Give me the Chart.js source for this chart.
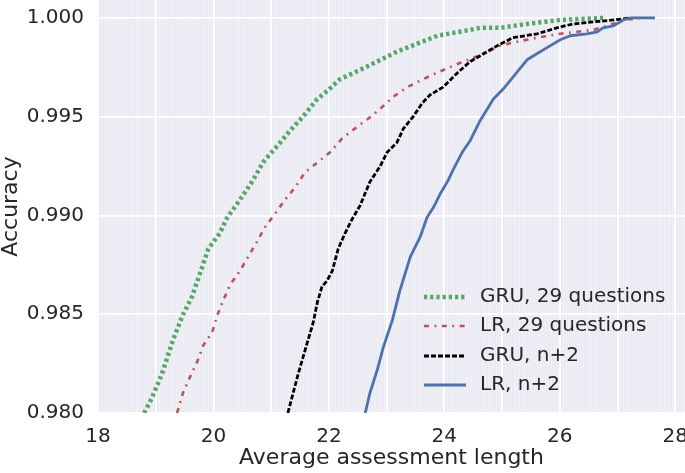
<!DOCTYPE html>
<html>
<head>
<meta charset="utf-8">
<script src="https://cdn.jsdelivr.net/npm/chart.js@4/dist/chart.umd.min.js"></script>
<style>
  html, body { margin: 0; padding: 0; background: #ffffff; }
  #wrap { width: 685px; height: 473px; position: relative; }
</style>
</head>
<body>
<div id="wrap"><canvas id="c" width="685" height="473"></canvas></div>
<script>
// ---- data ----
const seriesLabels = ["GRU, 29 questions", "LR, 29 questions", "GRU, n+2", "LR, n+2"];

const gru29X = [18.80, 18.94, 19.11, 19.30, 19.46, 19.63, 19.77, 19.91, 20.11, 20.24, 20.46, 20.69, 20.86, 21.10, 21.33, 21.55, 21.80, 21.97, 22.19, 22.49, 22.84, 23.18, 23.53, 23.88, 24.27, 24.62, 24.97, 25.43, 26.01, 26.75];
const gru29Y = [0.9800, 0.9808, 0.9820, 0.9837, 0.9849, 0.9859, 0.9871, 0.9883, 0.9891, 0.9899, 0.9908, 0.9918, 0.9927, 0.9935, 0.9943, 0.9950, 0.9959, 0.9963, 0.9969, 0.9973, 0.9978, 0.9983, 0.9987, 0.9991, 0.9993, 0.9995, 0.9995, 0.9997, 0.9999, 1.0000];

const lr29X = [19.37, 19.47, 19.59, 19.72, 19.82, 19.98, 20.06, 20.17, 20.29, 20.46, 20.60, 20.76, 20.89, 21.07, 21.24, 21.41, 21.59, 21.81, 22.02, 22.23, 22.45, 22.68, 22.89, 23.11, 23.36, 23.63, 23.93, 24.33, 24.45, 24.97, 25.26, 25.61, 26.01, 26.30, 26.58, 26.82, 27.13, 27.39];
const lr29Y = [0.9800, 0.9810, 0.9818, 0.9826, 0.9834, 0.9841, 0.9849, 0.9857, 0.9865, 0.9872, 0.9879, 0.9887, 0.9894, 0.9901, 0.9908, 0.9914, 0.9922, 0.9927, 0.9932, 0.9939, 0.9944, 0.9949, 0.9954, 0.9960, 0.9965, 0.9969, 0.9973, 0.9978, 0.9979, 0.9986, 0.9988, 0.9990, 0.9992, 0.9993, 0.9994, 0.9996, 0.9999, 1.0000];

const gruN2X = [21.29, 21.38, 21.47, 21.55, 21.64, 21.73, 21.80, 21.88, 21.97, 22.06, 22.16, 22.28, 22.40, 22.54, 22.71, 22.89, 23.01, 23.18, 23.29, 23.46, 23.62, 23.75, 23.98, 24.22, 24.45, 24.57, 24.92, 25.19, 25.61, 25.95, 26.23, 26.58, 26.93, 27.22];
const gruN2Y = [0.9800, 0.9810, 0.9820, 0.9828, 0.9837, 0.9846, 0.9856, 0.9864, 0.9867, 0.9872, 0.9883, 0.9891, 0.9898, 0.9905, 0.9917, 0.9925, 0.9932, 0.9937, 0.9944, 0.9950, 0.9957, 0.9961, 0.9965, 0.9972, 0.9978, 0.9980, 0.9986, 0.9990, 0.9992, 0.9995, 0.9997, 0.9998, 0.9999, 1.0000];

const lrN2X = [22.63, 22.71, 22.84, 22.94, 23.10, 23.23, 23.41, 23.58, 23.70, 23.81, 23.93, 24.07, 24.15, 24.31, 24.45, 24.62, 24.85, 25.02, 25.19, 25.44, 25.61, 25.78, 26.01, 26.18, 26.47, 26.65, 26.75, 26.93, 27.10, 27.22, 27.65];
const lrN2Y = [0.9800, 0.9810, 0.9822, 0.9833, 0.9847, 0.9862, 0.9879, 0.9889, 0.9899, 0.9904, 0.9911, 0.9918, 0.9923, 0.9932, 0.9938, 0.9948, 0.9959, 0.9964, 0.9970, 0.9979, 0.9982, 0.9985, 0.9989, 0.9991, 0.9992, 0.9993, 0.9995, 0.9996, 0.9999, 1.0000, 1.0000];

const xTicks = [18, 19, 20, 21, 22, 23, 24, 25, 26, 27, 28];
const xLabelTicks = [18, 20, 22, 24, 26, 28];
const yTicks = [0.980, 0.985, 0.990, 0.995, 1.000];

// ---- build ----
function pts(xs, ys) { return xs.map((x, i) => ({ x: x, y: ys[i] })); }

const FONT = "'DejaVu Sans', sans-serif";
const TXT = '#262626';

const datasets = [
  { label: seriesLabels[0], data: pts(gru29X, gru29Y), borderColor: '#55A868', borderWidth: 4.5, borderDash: [3.2, 3.0], order: 3 },
  { label: seriesLabels[1], data: pts(lr29X, lr29Y), borderColor: '#C44E52', borderWidth: 2.6, borderDash: [5, 5.5, 1.8, 5.5], order: 2 },
  { label: seriesLabels[2], data: pts(gruN2X, gruN2Y), borderColor: '#000000', borderWidth: 2.8, borderDash: [5, 2], order: 1 },
  { label: seriesLabels[3], data: pts(lrN2X, lrN2Y), borderColor: '#4C72B0', borderWidth: 2.8, borderDash: [], order: 0 }
].map(d => Object.assign(d, { pointRadius: 0, fill: false, tension: 0, borderCapStyle: 'butt', borderJoinStyle: 'round' }));

const bgPlugin = {
  id: 'bgPlugin',
  beforeDraw(chart) {
    const { ctx, chartArea: a, scales } = chart;
    ctx.save();
    ctx.fillStyle = '#EAEAF2';
    ctx.fillRect(a.left, a.top, a.right - a.left, a.bottom - a.top);
    // faint minor stripes
    ctx.strokeStyle = 'rgba(255,255,255,0.35)';
    ctx.lineWidth = 1;
    for (let v = 18; v <= scales.x.max + 1e-9; v += 0.05) {
      const px = Math.round(scales.x.getPixelForValue(v)) + 0.5;
      ctx.beginPath(); ctx.moveTo(px, a.top); ctx.lineTo(px, a.bottom); ctx.stroke();
    }
    ctx.restore();
  }
};

const legendPlugin = {
  id: 'legendPlugin',
  afterDraw(chart) {
    const ctx = chart.ctx;
    const rows = [297, 326, 356, 385];
    const x0 = 424, x1 = 466, tx = 480;
    ctx.save();
    chart.data.datasets.forEach((d, i) => {
      const y = rows[i];
      ctx.beginPath();
      ctx.strokeStyle = d.borderColor;
      ctx.lineWidth = d.borderWidth;
      ctx.setLineDash(d.borderDash || []);
      ctx.lineCap = 'butt';
      ctx.moveTo(x0, y); ctx.lineTo(x1, y); ctx.stroke();
      ctx.setLineDash([]);
      ctx.fillStyle = TXT;
      ctx.font = "20px " + FONT;
      ctx.textBaseline = 'middle';
      ctx.textAlign = 'left';
      ctx.fillText(d.label, tx, y);
    });
    ctx.restore();
  }
};

function noPad(s) { s.paddingTop = 0; s.paddingBottom = 0; s.paddingLeft = 0; s.paddingRight = 0; }

new Chart(document.getElementById('c'), {
  type: 'line',
  data: { datasets: datasets },
  plugins: [bgPlugin, legendPlugin],
  options: {
    responsive: false,
    animation: false,
    devicePixelRatio: 1,
    layout: { padding: 0 },
    plugins: { legend: { display: false }, tooltip: { enabled: false } },
    scales: {
      x: {
        type: 'linear', min: 18, max: 28.17,
        border: { display: false },
        grid: { color: '#ffffff', lineWidth: 1.8, drawTicks: false },
        afterBuildTicks: s => { s.ticks = xTicks.map(v => ({ value: v })); },
        afterFit: s => { s.height = 60; noPad(s); },
        ticks: {
          padding: 12, color: TXT, font: { family: FONT, size: 20 },
          autoSkip: false, maxRotation: 0,
          callback: v => xLabelTicks.includes(v) ? String(v) : ''
        },
        title: { display: true, text: 'Average assessment length', color: TXT, font: { family: FONT, size: 22 }, padding: { top: 0, bottom: 2 } }
      },
      y: {
        type: 'linear', min: 0.98, max: 1.00091,
        border: { display: false },
        grid: { color: '#ffffff', lineWidth: 1.8, drawTicks: false },
        afterBuildTicks: s => { s.ticks = yTicks.map(v => ({ value: v })); },
        afterFit: s => { s.width = 98; noPad(s); },
        ticks: {
          padding: 14, color: TXT, font: { family: FONT, size: 20 },
          callback: v => v.toFixed(3)
        },
        title: { display: true, text: 'Accuracy', color: TXT, font: { family: FONT, size: 22, lineHeight: 1.0 }, padding: { top: 0, bottom: 0 } }
      }
    }
  }
});
</script>
</body>
</html>
